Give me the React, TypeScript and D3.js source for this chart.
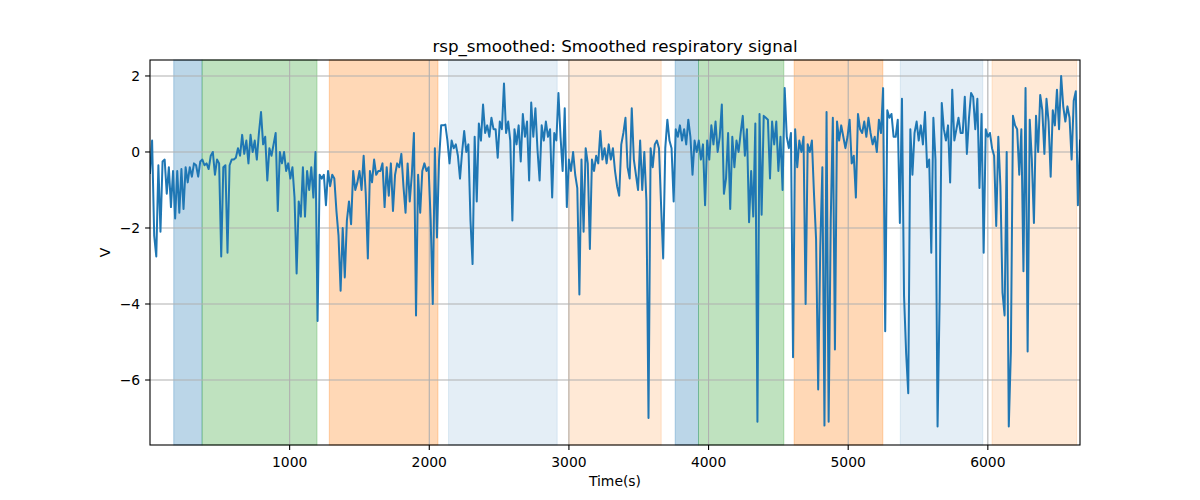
import React from "react";
import * as d3 from "d3";

// Sample spacing of the signal (time units between samples)
const SAMPLE_STEP = 15;

// Smoothed respiratory signal values (V)
const signal: number[] = [
  -0.55, 0.3, -2.2, -2.75, -0.35, -2.1, -0.25, -0.2, -1.1, -0.4,
  -1.45, -0.5, -1.75, -0.5, -1.6, -0.45, -1.5, -0.4, -0.8, -0.4,
  -0.65, -0.3, -0.35, -0.65, -0.25, -0.2, -0.35, -0.3, -0.45, -0.1,
  0.0, -0.6, -0.2, -0.3, -2.75, -0.4, -0.35, -2.65, -0.35, -0.2,
  -0.2, -0.15, 0.1, -0.1, 0.45, -0.05, 0.3, -0.3, 0.45, 0.0,
  0.3, -0.2, 0.5, 1.05, 0.2, 0.4, -0.75, 0.1, -0.1, 0.2,
  0.5, -1.55, 0.0, -0.3, 0.0, -0.5, -0.3, -0.7, -0.4, -1.2,
  -3.2, -1.3, -1.7, -0.4, -1.7, -0.5, -1.0, -0.4, -1.2, 0.0,
  -4.45, -0.6, -0.7, -0.6, -1.4, -0.5, -0.9, -0.6, -0.7, -1.55,
  -2.2, -3.65, -2.0, -3.3, -1.8, -1.3, -1.9, -0.5, -1.0, -0.8,
  -0.5, -1.0, -0.1, -1.1, -2.8, -0.5, -0.8, -0.2, -0.6, -0.5,
  -0.5, -0.3, -1.45, -0.4, -1.15, -0.3, -1.55, -0.6, -0.3, -0.4,
  -0.05, -0.9, -1.6, -0.3, -1.3, -0.6, 0.5, -4.3, -0.6, -1.6,
  -0.5, -0.3, -0.5, -0.4, -1.8, -4.0, 0.1, -2.25, -0.2, 0.7,
  0.7, 0.72, 0.3, -0.3, 0.3, 0.1, 0.2, -0.1, -0.7, 0.0,
  0.55, 0.0, 0.2, -1.8, -2.95, 0.4, -1.3, 0.75, 0.3, 1.25,
  0.5, 0.7, 0.4, 0.9, 0.6, 0.6, -0.15, 0.8, 0.6, 1.8,
  0.5, 0.8, 0.3, -1.8, 0.6, 0.2, 0.7, -0.25, 1.0, 0.4,
  0.8, -0.75, 1.3, 0.4, 1.15, 0.05, -0.75, 0.7, 0.3, 0.8,
  0.4, 0.6, -1.2, 0.5, 0.3, 1.55, 0.4, -0.5, 1.15, -1.45,
  -0.2, -0.5, 0.0, -0.6, -0.95, -3.75, -0.2, -2.1, 0.1, -0.3,
  -2.55, -0.2, -0.5, -0.1, -0.3, 0.55, -0.2, 0.1, -0.3, 0.2,
  -0.2, 0.1, -0.5, -0.9, -1.15, 0.2, 0.5, 0.9, -0.4, -0.7,
  1.15, -0.2, -0.6, -1.0, 0.3, -1.0, 0.0, -1.3, -7.0, 0.1,
  -0.4, 0.2, 0.3, 0.1, -1.4, -2.8, 0.1, 0.85, 0.3, 0.1,
  -1.3, 0.6, 0.4, 0.7, 0.3, 0.6, 0.2, 0.85, 0.4, -0.6,
  0.3, 0.0, 0.3, -0.2, 0.2, -1.4, 0.3, -0.2, 0.7, 0.2,
  0.8, 0.0, 0.4, 1.25, -1.1, -0.7, 0.5, -1.5, 0.4, -0.4,
  0.3, 0.0, 0.5, 0.95, -0.1, 0.6, -1.85, -0.5, -1.7, 0.75,
  -7.1, 1.0, -1.65, 0.95, 0.9, 0.85, -0.7, 0.8, 0.2, 0.8,
  -0.5, 0.4, -1.0, 1.68, 0.4, 0.1, 0.5, -5.4, 0.6, -0.4,
  0.3, 0.0, 0.4, -4.0, 0.2, 0.0, 0.3, -1.1, -2.3, -6.25,
  -2.5, -0.4, -7.2, 1.05, -7.1, -1.8, 0.9, -5.2, 0.8, 0.3,
  0.7, 0.4, 0.1, 0.4, 0.85, -0.3, -0.1, -1.2, 1.0, 0.6,
  0.5, 0.8, 0.4, 0.9, 0.5, 0.2, 0.4, 0.0, 0.85, 0.5,
  1.68, -4.72, 1.1, 0.9, 1.0, 0.4, 0.4, 0.85, -1.87, 1.4,
  -3.8, -5.3, -6.35, 0.6, -0.6, 0.5, 0.8, 0.3, 0.7, 0.2,
  1.05, -0.4, -0.2, -2.65, 0.9, -0.2, -7.22, -3.85, 1.29, 0.6,
  0.3, 0.7, -0.8, 1.64, 0.3, 0.6, 0.9, 0.5, 0.5, 1.45,
  -0.05, 0.9, 1.55, 1.45, 0.6, 1.4, -0.95, 1.0, -2.65, 0.6,
  0.4, 0.5, 0.1, -0.1, -1.95, 0.4, -0.9, -3.7, -4.3, 0.0,
  -7.22, -5.25, 0.95, 0.7, 0.6, -0.6, 0.6, -3.14, 1.68, -5.25,
  0.85, -0.2, -1.87, 0.95, 0.0, 1.5, 1.1, -0.05, 1.4, 0.8,
  -0.65, 1.1, 0.7, 1.64, 0.6, 2.0, 1.2, 0.8, 1.2, 0.9,
  -0.2, 1.35, 1.6, -1.4, 0.3,
];

// Shaded phases (time units)
const spanStarts = [170, 373, 1284, 2138, 2997, 3761, 3928, 4613, 5373, 6030];
const spanEnds = [373, 1196, 2062, 2916, 3661, 3928, 4539, 5248, 5964, 6636];
const spanKinds = ["blue", "green", "orange", "lightblue", "lightorange", "blue", "green", "orange", "lightblue", "lightorange"];

const xTicks = [1000, 2000, 3000, 4000, 5000, 6000];
const yTicks = [2, 0, -2, -4, -6];

const spanStyle: Record<string, { color: string; alpha: number }> = {
  blue: { color: "#1f77b4", alpha: 0.3 },
  green: { color: "#2ca02c", alpha: 0.3 },
  orange: { color: "#ff7f0e", alpha: 0.3 },
  lightblue: { color: "#1f77b4", alpha: 0.12 },
  lightorange: { color: "#ff7f0e", alpha: 0.17 },
};

const W = 1200;
const H = 500;
const M = { left: 150, right: 1080, top: 60, bottom: 445 };
const FONT = "DejaVu Sans, Liberation Sans, sans-serif";

export default function App() {
  const xMax = (signal.length - 1) * SAMPLE_STEP;
  const x = d3.scaleLinear().domain([0, xMax]).range([M.left, M.right]);
  const y = d3.scaleLinear().domain([-7.71, 2.42]).range([M.bottom, M.top]);

  const line = d3
    .line<number>()
    .x((_, i) => x(i * SAMPLE_STEP))
    .y((d) => y(d));

  const fmt = (v: number) => String(v).replace("-", "\u2212");

  return (
    <svg
      width={W}
      height={H}
      style={{ position: "absolute", left: 0, top: 0, background: "#fff" }}
      fontFamily={FONT}
    >
      <rect x={0} y={0} width={W} height={H} fill="#fff" />
      <defs>
        <clipPath id="plotclip">
          <rect x={M.left} y={M.top} width={M.right - M.left} height={M.bottom - M.top} />
        </clipPath>
      </defs>
      {/* spans */}
      <g>
        {spanStarts.map((s, i) => {
          const st = spanStyle[spanKinds[i]];
          return (
            <rect
              key={i}
              x={x(s)}
              y={M.top}
              width={x(spanEnds[i]) - x(s)}
              height={M.bottom - M.top}
              fill={st.color}
              fillOpacity={st.alpha}
              stroke={st.color}
              strokeOpacity={st.alpha}
              strokeWidth={1}
            />
          );
        })}
      </g>
      {/* grid */}
      <g stroke="#b0b0b0" strokeWidth={1.1}>
        {xTicks.map((t) => (
          <line key={t} x1={x(t)} x2={x(t)} y1={M.top} y2={M.bottom} />
        ))}
        {yTicks.map((t) => (
          <line key={t} x1={M.left} x2={M.right} y1={y(t)} y2={y(t)} />
        ))}
      </g>
      {/* signal */}
      <path
        d={line(signal) || ""}
        fill="none"
        stroke="#1f77b4"
        strokeWidth={2}
        strokeLinejoin="round"
        strokeLinecap="square"
        clipPath="url(#plotclip)"
      />
      {/* spines */}
      <rect
        x={M.left}
        y={M.top}
        width={M.right - M.left}
        height={M.bottom - M.top}
        fill="none"
        stroke="#000"
        strokeWidth={1.1}
      />
      {/* x ticks */}
      <g>
        {xTicks.map((t) => (
          <g key={t}>
            <line x1={x(t)} x2={x(t)} y1={M.bottom} y2={M.bottom + 4.9} stroke="#000" strokeWidth={1.1} />
            <text x={x(t)} y={M.bottom + 22} textAnchor="middle" fontSize={13.9} fill="#000">
              {fmt(t)}
            </text>
          </g>
        ))}
      </g>
      {/* y ticks */}
      <g>
        {yTicks.map((t) => (
          <g key={t}>
            <line x1={M.left - 4.9} x2={M.left} y1={y(t)} y2={y(t)} stroke="#000" strokeWidth={1.1} />
            <text x={M.left - 9.8} y={y(t)} dy="0.35em" textAnchor="end" fontSize={13.9} fill="#000">
              {fmt(t)}
            </text>
          </g>
        ))}
      </g>
      <text x={(M.left + M.right) / 2} y={486} textAnchor="middle" fontSize={13.9} fill="#000">
        Time(s)
      </text>
      <text
        transform={`translate(110, ${(M.top + M.bottom) / 2}) rotate(-90)`}
        textAnchor="middle"
        fontSize={13.9}
        fill="#000"
      >
        V
      </text>
      <text x={(M.left + M.right) / 2} y={52} textAnchor="middle" fontSize={16.7} fill="#000">
        rsp_smoothed: Smoothed respiratory signal
      </text>
    </svg>
  );
}
